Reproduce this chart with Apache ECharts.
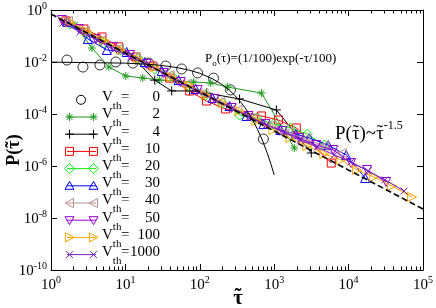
<!DOCTYPE html>
<html><head><meta charset="utf-8">
<script src="https://cdn.jsdelivr.net/npm/echarts@6/dist/echarts.min.js"></script>
<style>html,body{margin:0;padding:0;background:#fff}#c{width:436px;height:308px}</style>
</head><body><div id="c"></div>
<script>
// ---------------- data ----------------
const legendLabels = ['0','2','4','10','20','30','40','50','100','1000'];

const tau_v0 = [1.64, 2.69, 4.54, 7.43, 12.6, 20.6, 34.8, 57, 93.5, 153, 259, 716];
const p_v0   = [0.0119, 0.0064, 0.0077, 0.010, 0.0091, 0.0091, 0.0070, 0.0054, 0.0038, 0.0024, 0.00084, 1.09e-5];

const tau_v2 = [2.10, 3.55, 5.99, 10.1, 17.1, 28.9, 48.9, 82.6, 140, 236, 674, 1866];
const p_v2   = [0.265, 0.0345, 0.00643, 0.0029, 0.00243, 0.00203, 0.00186, 0.0017, 0.00156, 0.00109, 0.00064, 4.9e-6];

const tau_v4 = [1.59, 2.77, 4.7, 8.16, 13.8, 24.8, 41.9, 73, 123, 342, 1070, 3155];
const p_v4   = [0.35, 0.142, 0.064, 0.029, 0.0119, 0.0020, 0.00077, 0.00077, 0.00064, 0.00038, 0.000143, 3.16e-6];

const tau_v10 = [1.59, 2.77, 4.83, 8.16, 13.8, 23.3, 39.4, 73, 123, 222, 674, 1138, 1985, 5845];
const p_v10   = [0.38, 0.186, 0.092, 0.038, 0.0156, 0.0070, 0.0024, 0.00077, 0.000316, 0.000156, 8.4e-5, 5.9e-5, 2.9e-5, 1.3e-6];

const tau_v20 = [1.80, 3.04, 5.13, 8.67, 14.7, 24.8, 41.9, 70.8, 120, 202, 342, 577, 975, 1648, 2790, 4710];
const p_v20   = [0.29, 0.13, 0.0538, 0.029, 0.01426, 0.00538, 0.0029, 0.00119, 0.000538, 0.000265, 9.15e-5, 7.0e-5, 4.1e-5, 2.9e-5, 1.7e-5, 6.4e-6];

const tau_v30 = [1.64, 3.13, 5.63, 10.4, 18.2, 30.8, 52, 87.9, 148.5, 251, 424, 716, 1211, 1950, 2965, 5330, 9290, 16700];
const p_v30   = [0.35, 0.077, 0.029, 0.0243, 0.010, 0.0045, 0.00203, 0.000916, 0.000412, 0.000203, 8.4e-5, 4.1e-5, 2.43e-5, 1.7e-5, 1.19e-5, 6.4e-6, 2.65e-6, 3.46e-7];

const tau_v40 = [1.69, 2.86, 4.83, 8.16, 13.8, 23.3, 39.4, 66.5, 112, 190, 321, 543, 917, 1550, 2620, 4710, 8200];
const p_v40   = [0.38, 0.156, 0.070, 0.0316, 0.0143, 0.00643, 0.00316, 0.00143, 0.00064, 0.00029, 0.000143, 7.0e-5, 3.78e-5, 2.03e-5, 1.09e-5, 5.9e-6, 3.16e-6];

const tau_v50 = [1.40, 2.37, 4.01, 6.78, 11.5, 19.4, 32.7, 55.3, 93.5, 158, 267, 451, 762, 1288, 2178, 3680, 6220, 10800, 17700, 31900];
const p_v50   = [0.41, 0.186, 0.0767, 0.038, 0.0186, 0.00838, 0.00378, 0.0017, 0.00084, 0.00038, 0.00017, 8.4e-5, 4.1e-5, 2.22e-5, 1.19e-5, 6.4e-6, 4.12e-6, 1.3e-6, 7.0e-7, 2.43e-7];

const tau_v100 = [1.80, 3.04, 5.13, 8.67, 14.7, 24.8, 41.9, 70.8, 120, 202, 342, 577, 975, 1648, 2790, 4710, 7960, 13000, 22000, 38400, 71300];
const p_v100   = [0.35, 0.156, 0.070, 0.029, 0.013, 0.00643, 0.00265, 0.0013, 0.000538, 0.000265, 0.00013, 5.38e-5, 2.43e-5, 1.19e-5, 5.9e-6, 2.9e-6, 1.7e-6, 7.0e-7, 3.78e-7, 1.7e-7, 6.43e-8];

const tau_v1000 = [1.45, 2.45, 4.14, 7.0, 11.8, 20.0, 33.7, 57, 96.4, 163, 275, 465, 786, 1328, 2245, 3793, 6410, 10800, 18300, 31000, 55600];
const p_v1000   = [0.316, 0.143, 0.070, 0.029, 0.0156, 0.00767, 0.00345, 0.00156, 0.0007, 0.000345, 0.00017, 7.67e-5, 3.78e-5, 2.03e-5, 1.0e-5, 5.38e-6, 2.65e-6, 1.43e-6, 6.43e-7, 2.9e-7, 1.09e-7];

// P_o(tau) = (1/100) exp(-tau/100), values written out
const tau_p0 = [1, 10, 20, 30, 50, 70, 100, 150, 200, 250, 300, 350, 400, 450, 500, 600, 700, 800, 900, 1000];
const p_p0   = [0.0099, 0.009048, 0.008187, 0.007408, 0.006065, 0.004966, 0.003679, 0.002231, 0.001353, 0.000821, 0.000498, 0.000302, 0.000183, 0.000111, 6.74e-5, 2.48e-5, 9.12e-6, 3.35e-6, 1.23e-6, 4.54e-7];

// reference power law P ~ tau^-1.5
const tau_fit = [1, 100000];
const p_fit   = [0.7, 2.21e-8];

const minorMantissa = [2,3,4,5,6,7,8,9];
const minorDecades = [1,10,100,1000,10000];

// ---------------- drawing ----------------
const FONT = '"Liberation Serif", "Times New Roman", serif';
const zip = (a,b) => a.map((t,i)=>[t,b[i]]);
const mctx = document.createElement('canvas').getContext('2d');
function tw(t,size,w){ mctx.font=(w||'normal')+' '+size+'px "Liberation Serif"'; return mctx.measureText(t).width; }
function seq(parts, x, y, anchor){
  const total = parts.reduce((s,p)=>s+tw(p.t,p.size,p.w),0);
  let cx = anchor==='right' ? x-total : anchor==='center' ? x-total/2 : x;
  const out = [];
  parts.forEach(p=>{
    const w = tw(p.t,p.size,p.w);
    out.push({type:'text', x:cx, y:y+(p.dy||0), z:50,
      style:{text:p.t, fontSize:p.size, fontFamily:FONT, fontWeight:p.w||'normal', fill:'#000', align:'left', verticalAlign:'middle'}});
    if (p.tilde) {
      out.push({type:'text', x:cx+w/2+(p.tx||0), y:y+(p.dy||0)+(p.ty||0), z:50,
        style:{text:'\u02DC', fontSize:p.size, fontFamily:FONT, fontWeight:p.w||'normal', fill:'#000', align:'center', verticalAlign:'middle'}});
    }
    cx += w;
  });
  return out;
}

const PATH = {
  star:'path://M0,-10L0,10M-10,0L10,0M-7,-7L7,7M-7,7L7,-7',
  plus:'path://M0,-10L0,10M-10,0L10,0',
  cross:'path://M-10,-10L10,10M-10,10L10,-10',
  tl:'path://M-10,0L10,-10L10,10Z',
  td:'path://M0,10L-10,-8L10,-8Z',
  tr:'path://M10,0L-10,-10L-10,10Z',
  tu:'path://M0,-10L10,8L-10,8Z'
};
const defs = [
  {n:'0',    c:'#000000', sym:'circle', k:'circle', s:10, scatter:true},
  {n:'2',    c:'#1f9a1f', sym:PATH.star, k:'star', s:8},
  {n:'4',    c:'#000000', sym:PATH.plus, k:'plus', s:9},
  {n:'10',   c:'#ff0000', sym:'rect', k:'rect', s:8},
  {n:'20',   c:'#11ee11', sym:'diamond', k:'diamond', s:10},
  {n:'30',   c:'#0000ff', sym:PATH.tu, k:'tu', s:9},
  {n:'40',   c:'#bc8f8f', sym:PATH.tl, k:'tl', s:9},
  {n:'50',   c:'#9400d3', sym:PATH.td, k:'td', s:9},
  {n:'100',  c:'#ffa500', sym:PATH.tr, k:'tr', s:9},
  {n:'1000', c:'#7221bc', sym:PATH.cross, k:'cross', s:7}
];
const dataSets = [
  zip(tau_v0,p_v0), zip(tau_v2,p_v2), zip(tau_v4,p_v4), zip(tau_v10,p_v10), zip(tau_v20,p_v20),
  zip(tau_v30,p_v30), zip(tau_v40,p_v40), zip(tau_v50,p_v50), zip(tau_v100,p_v100), zip(tau_v1000,p_v1000)
];

const series = [];
defs.forEach((d,i)=>{
  series.push({
    name:'V'+d.n, type: d.scatter ? 'scatter' : 'line', data: dataSets[i],
    symbol:d.sym, symbolSize:d.s, showSymbol:true, symbolKeepAspect:false,
    lineStyle:{color:d.c, width:1}, itemStyle:{color:'rgba(0,0,0,0)', borderColor:d.c, borderWidth:1},
    emphasis:{disabled:true}, silent:true, z:3+i*0.01
  });
});
series.push({name:'P0', type:'line', data:zip(tau_p0,p_p0), showSymbol:false, symbol:'none',
  lineStyle:{color:'#000', width:1}, silent:true, z:5});
series.push({name:'fit', type:'line', data:zip(tau_fit,p_fit), showSymbol:false, symbol:'none',
  lineStyle:{color:'#000', width:1.6, type:[6,3]}, silent:true, z:6});

// minor ticks of the log x axes
const minorVals = [];
minorDecades.forEach(d=>minorMantissa.forEach(m=>minorVals.push([m*d, 1e-5])));
series.push({type:'custom', silent:true, z:8, data:minorVals, encode:{x:0,y:1}, clip:false,
  renderItem:(params, api)=>{
    const v = api.value(0);
    const b = api.coord([v,1e-10]), t = api.coord([v,1]);
    const x = Math.round(b[0])+0.5;
    return {type:'group', children:[
      {type:'line', shape:{x1:x,y1:b[1],x2:x,y2:b[1]-3.5}, style:{stroke:'#000', lineWidth:1}},
      {type:'line', shape:{x1:x,y1:t[1],x2:x,y2:t[1]+3.5}, style:{stroke:'#000', lineWidth:1}}
    ]};
  }});

const rich = {
  b:{fontSize:15, fontFamily:FONT, color:'#000', lineHeight:18, verticalAlign:'bottom'},
  s:{fontSize:10, fontFamily:FONT, color:'#000', lineHeight:10, verticalAlign:'top'}
};
const supLabel = v => '{b|10}{s|' + Math.round(Math.log10(v)) + '}';
const axLine = {show:true, onZero:false, lineStyle:{color:'#000', width:1}};
const axTick = {show:true, inside:true, length:6, lineStyle:{color:'#000', width:1}};

// legend drawn as graphics
function mk(kind, cx, cy, color){
  const st = {fill:'none', stroke:color, lineWidth:1};
  const L = (x1,y1,x2,y2)=>({type:'line', shape:{x1,y1,x2,y2}, style:st});
  switch(kind){
    case 'circle': return {type:'circle', shape:{cx,cy,r:4.5}, style:st};
    case 'rect': return {type:'rect', shape:{x:cx-4,y:cy-4,width:8,height:8}, style:st};
    case 'diamond': return {type:'polygon', shape:{points:[[cx,cy-5],[cx+5,cy],[cx,cy+5],[cx-5,cy]]}, style:st};
    case 'tu': return {type:'polygon', shape:{points:[[cx,cy-4.5],[cx+4.5,cy+3.5],[cx-4.5,cy+3.5]]}, style:st};
    case 'tl': return {type:'polygon', shape:{points:[[cx-4.5,cy],[cx+4,cy-4.5],[cx+4,cy+4.5]]}, style:st};
    case 'td': return {type:'polygon', shape:{points:[[cx,cy+4.5],[cx+4.5,cy-3.5],[cx-4.5,cy-3.5]]}, style:st};
    case 'tr': return {type:'polygon', shape:{points:[[cx+4.5,cy],[cx-4,cy-4.5],[cx-4,cy+4.5]]}, style:st};
    case 'plus': return {type:'group', children:[L(cx-4.5,cy,cx+4.5,cy), L(cx,cy-4.5,cx,cy+4.5)]};
    case 'cross': return {type:'group', children:[L(cx-3.5,cy-3.5,cx+3.5,cy+3.5), L(cx-3.5,cy+3.5,cx+3.5,cy-3.5)]};
    case 'star': return {type:'group', children:[L(cx-4,cy,cx+4,cy), L(cx,cy-4,cx,cy+4), L(cx-3,cy-3,cx+3,cy+3), L(cx-3,cy+3,cx+3,cy-3)]};
  }
}
const graphics = [];
defs.forEach((d,i)=>{
  const cy = 97.3 + 17.2*i;
  const iy = cy + 2.5;
  if (d.scatter) {
    graphics.push(mk(d.k, 81, iy, d.c));
  } else {
    graphics.push({type:'line', shape:{x1:67,y1:iy,x2:96,y2:iy}, style:{stroke:d.c, lineWidth:1}});
    graphics.push(mk(d.k, 69.5, iy, d.c));
    graphics.push(mk(d.k, 93.5, iy, d.c));
  }
  graphics.push(...seq([{t:'V',size:15},{t:'th',size:11,dy:9}], 102, cy, 'left'));
  graphics.push(...seq([{t:'=',size:15}], 121, cy, 'left'));
  graphics.push(...seq([{t:legendLabels[i],size:15}], 160, cy, 'right'));
});
// annotations
graphics.push(...seq([{t:'P',size:13},{t:'o',size:9,dy:5},{t:'(τ)=(1/100)exp(-τ/100)',size:13}], 205, 59, 'left'));
graphics.push(...seq([{t:'P(',size:19},{t:'τ',size:19,tilde:true,ty:-1},{t:')~',size:19},{t:'τ',size:19,tilde:true,ty:-1},{t:'-1.5',size:12,dy:-8}], 335, 134, 'left'));
// axis names
graphics.push(...seq([{t:'τ',size:21,w:'bold',tilde:true,ty:-1}], 238, 299, 'center'));
graphics.push({type:'group', x:14, y:150, rotation:Math.PI/2, children:
  seq([{t:'P(',size:18,w:'bold'},{t:'τ',size:18,w:'bold',tilde:true,ty:-1},{t:')',size:18,w:'bold'}], 0, 0, 'center')});

const option = {
  animation:false,
  backgroundColor:'#fff',
  grid:{left:51, right:12, top:10, bottom:38},
  xAxis:[
    {type:'log', logBase:10, min:1, max:100000, position:'bottom', axisLine:axLine, axisTick:axTick,
     axisLabel:{formatter:supLabel, rich:rich, margin:5}, splitLine:{show:false}},
    {type:'log', logBase:10, min:1, max:100000, position:'top', axisLine:axLine, axisTick:axTick,
     axisLabel:{show:false}, splitLine:{show:false}}
  ],
  yAxis:[
    {type:'log', logBase:10, min:1e-10, max:1, interval:2, position:'left', axisLine:axLine, axisTick:axTick,
     axisLabel:{formatter:supLabel, rich:rich, margin:4}, splitLine:{show:false}},
    {type:'log', logBase:10, min:1e-10, max:1, interval:2, position:'right', axisLine:axLine, axisTick:axTick,
     axisLabel:{show:false}, splitLine:{show:false}}
  ],
  series: series,
  graphic:{elements:graphics}
};
const chart = echarts.init(document.getElementById('c'));
chart.setOption(option);
</script></body></html>
